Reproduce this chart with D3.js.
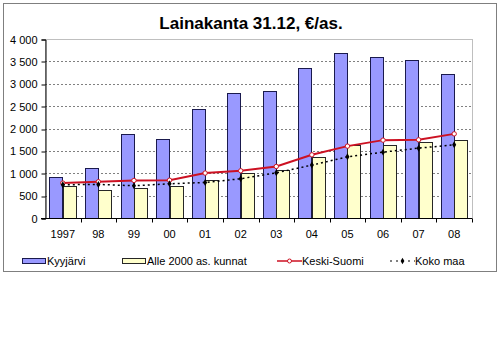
<!DOCTYPE html>
<html>
<head>
<meta charset="utf-8">
<script src="https://cdn.jsdelivr.net/npm/d3@7"></script>
<style>
  body { margin: 0; background: #fff; }
  svg { display: block; font-family: "Liberation Sans", Arial, sans-serif; }
</style>
</head>
<body>
<script>
// data
const years = ['1997', '98', '99', '00', '01', '02', '03', '04', '05', '06', '07', '08'];
const kyyjarvi = [915, 1115, 1887, 1762, 2445, 2788, 2840, 3346, 3680, 3598, 3538, 3212];
const alle2000 = [714, 625, 660, 714, 848, 1004, 1071, 1352, 1635, 1642, 1695, 1754];
const keskiSuomi = [781, 810, 839, 845, 1004, 1055, 1151, 1412, 1606, 1740, 1747, 1880];
const kokoMaa = [743, 750, 720, 765, 794, 877, 1010, 1182, 1367, 1472, 1561, 1635];
const yTicks = [0, 500, 1000, 1500, 2000, 2500, 3000, 3500, 4000];

const W = 500, H = 354;
const plot = { left: 45, right: 472, top: 39, bottom: 218 };

const svg = d3.select('body').append('svg')
  .attr('width', W)
  .attr('height', H);

// outer frame
svg.append('rect')
  .attr('x', 3.5).attr('y', 3.5)
  .attr('width', 493).attr('height', 268)
  .attr('fill', '#fff')
  .attr('stroke', '#7f7f7f');

svg.append('text')
  .attr('x', 251).attr('y', 29)
  .attr('text-anchor', 'middle')
  .style('font-size', '17px')
  .style('font-weight', 'bold')
  .text('Lainakanta 31.12, €/as.');

const x = d3.scaleBand()
  .domain(years)
  .range([plot.left, plot.right]);

const xInner = d3.scaleBand()
  .domain(['k', 'a'])
  .range([0, x.bandwidth()])
  .paddingOuter(0.33);

const y = d3.scaleLinear()
  .domain([0, 4000])
  .range([plot.bottom, plot.top]);

// plot area border (top/right grey)
svg.append('rect')
  .attr('x', plot.left + 0.5).attr('y', plot.top + 0.5)
  .attr('width', plot.right - plot.left).attr('height', plot.bottom - plot.top)
  .attr('fill', 'none')
  .attr('stroke', '#bfbfbf');

// gridlines
svg.append('g')
  .selectAll('line')
  .data(yTicks.filter(d => d > 0 && d < 4000))
  .enter()
  .append('line')
  .attr('x1', plot.left)
  .attr('x2', plot.right)
  .attr('y1', d => Math.round(y(d)) + 0.5)
  .attr('y2', d => Math.round(y(d)) + 0.5)
  .attr('stroke', '#808080')
  .attr('stroke-dasharray', '2,2');

// bars
svg.append('g')
  .selectAll('rect')
  .data(kyyjarvi)
  .enter()
  .append('rect')
  .attr('x', (d, i) => Math.round(x(years[i]) + xInner('k')) + 0.5)
  .attr('y', d => Math.round(y(d)) + 0.5)
  .attr('width', Math.round(xInner.bandwidth()))
  .attr('height', d => Math.round(y(0)) - Math.round(y(d)))
  .attr('fill', '#9999ff')
  .attr('stroke', '#1a1a4d');

svg.append('g')
  .selectAll('rect')
  .data(alle2000)
  .enter()
  .append('rect')
  .attr('x', (d, i) => Math.round(x(years[i]) + xInner('a')) + 0.5)
  .attr('y', d => Math.round(y(d)) + 0.5)
  .attr('width', Math.round(xInner.bandwidth()))
  .attr('height', d => Math.round(y(0)) - Math.round(y(d)))
  .attr('fill', '#ffffcc')
  .attr('stroke', '#262626');

const cx = i => x(years[i]) + x.bandwidth() / 2;

// Keski-Suomi
const line = d3.line()
  .x((d, i) => cx(i))
  .y(d => y(d));

svg.append('path')
  .datum(keskiSuomi)
  .attr('d', line)
  .attr('fill', 'none')
  .attr('stroke', '#cc1122')
  .attr('stroke-width', 2);

svg.append('g')
  .selectAll('circle')
  .data(keskiSuomi)
  .enter()
  .append('circle')
  .attr('cx', (d, i) => cx(i))
  .attr('cy', d => y(d))
  .attr('r', 2.2)
  .attr('fill', '#fff')
  .attr('stroke', '#cc1122')
  .attr('stroke-width', 1);

// Koko maa
svg.append('path')
  .datum(kokoMaa)
  .attr('d', line)
  .attr('fill', 'none')
  .attr('stroke', '#000')
  .attr('stroke-width', 1.5)
  .attr('stroke-dasharray', '2,3');

svg.append('g')
  .selectAll('path')
  .data(kokoMaa)
  .enter()
  .append('path')
  .attr('d', d3.symbol(d3.symbolDiamond, 14))
  .attr('transform', (d, i) => `translate(${cx(i)},${y(d)})`)
  .attr('fill', '#000');

// y axis
const yAxis = svg.append('g')
  .attr('transform', `translate(${plot.left + 0.5},0.5)`)
  .call(d3.axisLeft(y).tickValues(yTicks).tickSize(4).tickPadding(4)
    .tickFormat(d => d3.format(',')(d).replace(',', ' ')));
yAxis.select('.domain').attr('stroke', '#000');
yAxis.selectAll('.tick line').attr('stroke', '#000').attr('transform', d => `translate(0,${Math.round(y(d)) - y(d)})`);
yAxis.selectAll('text')
  .style('font-size', '11px')
  .attr('fill', '#000');

// x axis, ticks between categories
const xAxisG = svg.append('g')
  .attr('transform', `translate(0,${plot.bottom + 0.5})`);
xAxisG.append('line')
  .attr('x1', plot.left - 4).attr('x2', plot.right)
  .attr('stroke', '#000');
xAxisG.selectAll('line.tk')
  .data(years)
  .enter()
  .append('line')
  .attr('class', 'tk')
  .attr('x1', d => Math.round(x(d) + x.bandwidth()) + 0.5)
  .attr('x2', d => Math.round(x(d) + x.bandwidth()) + 0.5)
  .attr('y1', 0).attr('y2', 4)
  .attr('stroke', '#000');
xAxisG.selectAll('text')
  .data(years)
  .enter()
  .append('text')
  .attr('x', d => x(d) + x.bandwidth() / 2)
  .attr('y', 19)
  .attr('text-anchor', 'middle')
  .style('font-size', '11px')
  .text(d => d);

// legend
const legend = svg.append('g').attr('transform', 'translate(0,261)');
const legendItems = [
  { name: 'Kyyjärvi', x: 22, type: 'box', fill: '#9999ff', stroke: '#1a1a4d' },
  { name: 'Alle 2000 as. kunnat', x: 122, type: 'box', fill: '#ffffcc', stroke: '#262626' },
  { name: 'Keski-Suomi', x: 277, type: 'red' },
  { name: 'Koko maa', x: 390, type: 'dots' }
];

legendItems.forEach(item => {
  const g = legend.append('g').attr('transform', `translate(${item.x},0)`);
  if (item.type === 'box') {
    g.append('rect')
      .attr('x', 0.5).attr('y', -2.5)
      .attr('width', 23).attr('height', 5)
      .attr('fill', item.fill)
      .attr('stroke', item.stroke);
  } else if (item.type === 'red') {
    g.append('line')
      .attr('x1', 0).attr('x2', 25).attr('y1', 0).attr('y2', 0)
      .attr('stroke', '#cc1122').attr('stroke-width', 1.5);
    g.append('circle')
      .attr('cx', 12.5).attr('cy', 0).attr('r', 2)
      .attr('fill', '#fff').attr('stroke', '#cc1122');
  } else {
    g.append('line')
      .attr('x1', 0).attr('x2', 25).attr('y1', 0).attr('y2', 0)
      .attr('stroke', '#000').attr('stroke-width', 1)
      .attr('stroke-dasharray', '2,4');
    g.append('path')
      .attr('d', d3.symbol(d3.symbolDiamond, 12))
      .attr('transform', 'translate(12.5,0)')
      .attr('fill', '#000');
  }
  g.append('text')
    .attr('x', 25).attr('y', 4)
    .style('font-size', '11px')
    .text(item.name);
});
</script>
</body>
</html>
